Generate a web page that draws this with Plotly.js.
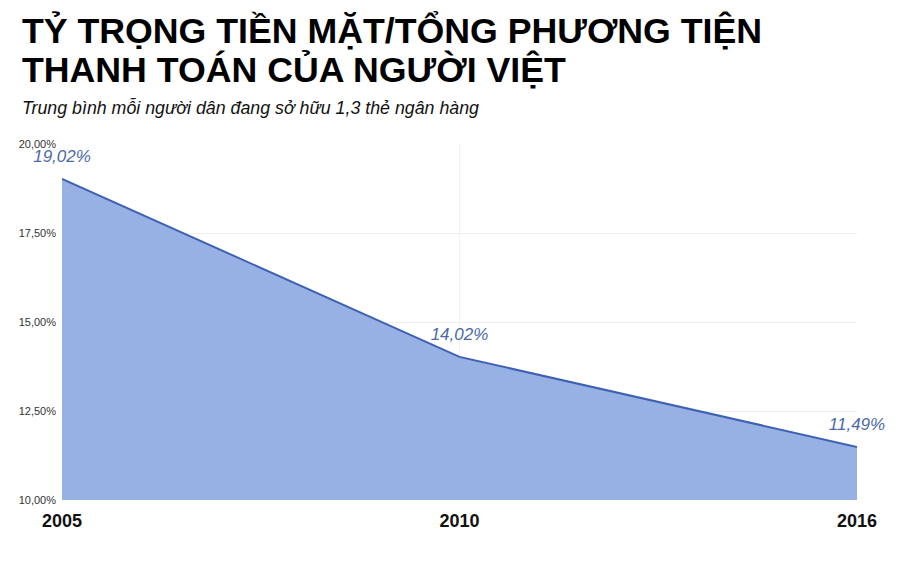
<!DOCTYPE html>
<html>
<head>
<meta charset="utf-8">
<script src="https://cdn.plot.ly/plotly-3.0.1.min.js"></script>
<style>
  html, body { margin: 0; padding: 0; background: #ffffff; }
  #chart { width: 897px; height: 566px; }
</style>
</head>
<body>
<div id="chart"></div>
<script>
var years = ['2005', '2010', '2016'];
var cashShare = [19.02, 14.02, 11.49];
var yTicks = [10, 12.5, 15, 17.5, 20];
var yTickText = ['10,00%', '12,50%', '15,00%', '17,50%', '20,00%'];

var titleLines = ['TỶ TRỌNG TIỀN MẶT/TỔNG PHƯƠNG TIỆN', 'THANH TOÁN CỦA NGƯỜI VIỆT'];
var subtitle = 'Trung bình mỗi người dân đang sở hữu 1,3 thẻ ngân hàng';

var CHART = document.getElementById('chart');
var font = 'Liberation Sans, Arial, sans-serif';

// area + line, labels pushed up by an invisible marker
var trace = {
    x: years,
    y: cashShare,
    type: 'scatter',
    mode: 'lines+markers+text',
    fill: 'tozeroy',
    fillcolor: '#98b1e5',
    line: { color: '#3e62b3', width: 2 },
    marker: { size: 18, opacity: 0, color: '#3e62b3' },
    texttemplate: '%{y:.2f}%',
    textposition: 'top center',
    textfont: { family: font, size: 17, color: '#4a6aa8', style: 'italic' },
    cliponaxis: false,
    hoverinfo: 'skip'
};

var layout = {
    width: 897,
    height: 566,
    paper_bgcolor: '#ffffff',
    plot_bgcolor: '#ffffff',
    separators: ',.',
    showlegend: false,
    margin: { l: 62, r: 40, t: 144, b: 66 },
    xaxis: {
        type: 'category',
        range: [0, 2],
        showgrid: true,
        gridcolor: '#f3f3f3',
        zeroline: false,
        showline: false,
        ticks: '',
        ticklabelstandoff: 8,
        tickfont: { family: font, size: 18, color: '#111111', weight: 'bold' }
    },
    yaxis: {
        range: [10, 20],
        tickmode: 'array',
        tickvals: yTicks,
        ticktext: yTickText,
        showgrid: true,
        gridcolor: '#efefef',
        zeroline: false,
        showline: false,
        ticks: '',
        ticklabelstandoff: 5,
        tickfont: { family: font, size: 11, color: '#333333' }
    },
    annotations: [
        {
            text: titleLines[0], xref: 'paper', yref: 'paper',
            x: -0.0528, y: 1.317, xanchor: 'left', yanchor: 'middle', showarrow: false,
            font: { family: font, size: 35.7, color: '#000000', weight: 'bold' }
        },
        {
            text: titleLines[1], xref: 'paper', yref: 'paper',
            x: -0.0528, y: 1.208, xanchor: 'left', yanchor: 'middle', showarrow: false,
            font: { family: font, size: 35.7, color: '#000000', weight: 'bold' }
        },
        {
            text: subtitle, xref: 'paper', yref: 'paper',
            x: -0.0528, y: 1.101, xanchor: 'left', yanchor: 'middle', showarrow: false,
            font: { family: font, size: 17.8, color: '#111111', style: 'italic' }
        }
    ]
};

var config = { responsive: false, displayModeBar: false, staticPlot: true };

Plotly.newPlot(CHART, [trace], layout, config);
</script>
</body>
</html>
